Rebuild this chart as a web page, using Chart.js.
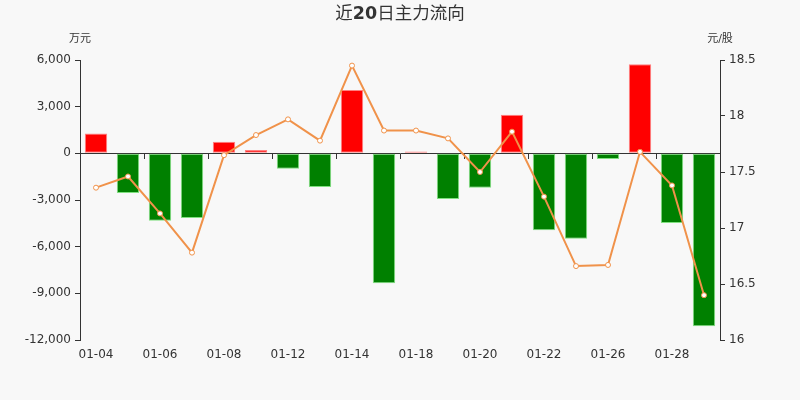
<!DOCTYPE html>
<html>
<head>
<meta charset="utf-8">
<script src="https://cdn.jsdelivr.net/npm/chart.js@4/dist/chart.umd.min.js"></script>
<style>
  html, body { margin:0; padding:0; background:#f8f8f8; }
  #wrap { width:800px; height:400px; position:relative; }
</style>
</head>
<body>
<div id="wrap"><canvas id="flowChart"></canvas></div>
<script>
/* ── data ─────────────────────────────────────────── */
const dates = ['01-04','01-05','01-06','01-07','01-08','01-11','01-12','01-13','01-14','01-15',
               '01-18','01-19','01-20','01-21','01-22','01-25','01-26','01-27','01-28','01-29'];
const netFlow = [1270, -2550, -4330, -4160, 750, 210, -985, -2165, 4070, -8355,
                 110, -2935, -2205, 2485, -4950, -5485, -365, 5720, -4480, -11120];
const closePrice = [17.36, 17.46, 17.13, 16.78, 17.65, 17.83, 17.97, 17.78, 18.45, 17.87,
                    17.87, 17.80, 17.50, 17.86, 17.28, 16.66, 16.67, 17.68, 17.38, 16.40];
const flowTicks  = [-12000, -9000, -6000, -3000, 0, 3000, 6000];
const priceTicks = [16, 16.5, 17, 17.5, 18, 18.5];

const TITLE_PARTS = [['近', 'normal'], ['20', 'bold'], ['日主力流向', 'normal']];
const LEFT_UNIT = '万元';
const RIGHT_UNIT = '元/股';
const FONT = '"DejaVu Sans", "Noto Sans CJK SC", sans-serif';
const AXIS_COLOR = '#333';
const TEXT_COLOR = '#333';

/* ── title + unit labels ─────────────────────────── */
const headerPlugin = {
  id: 'header',
  afterDraw(chart){
    const {ctx, chartArea} = chart;
    ctx.save();
    ctx.fillStyle = TEXT_COLOR;
    ctx.textBaseline = 'middle';
    // title, "20" in bold
    let total = 0;
    TITLE_PARTS.forEach(p => { ctx.font = p[1] + ' 17.5px ' + FONT; total += ctx.measureText(p[0]).width; });
    let x = chart.width / 2 - total / 2;
    ctx.textAlign = 'left';
    TITLE_PARTS.forEach(p => {
      ctx.font = p[1] + ' 17.5px ' + FONT;
      ctx.fillText(p[0], x, 14);
      x += ctx.measureText(p[0]).width;
    });
    ctx.font = '11px ' + FONT;
    ctx.textAlign = 'center';
    ctx.fillText(LEFT_UNIT, chartArea.left, 39);
    ctx.fillText(RIGHT_UNIT, chartArea.right, 39);
    ctx.restore();
  }
};

/* ── chart ───────────────────────────────────────── */
const ctx = document.getElementById('flowChart').getContext('2d');
new Chart(ctx, {
  data: {
    labels: dates,
    datasets: [
      {
        type: 'line',
        label: '股价',
        data: closePrice,
        yAxisID: 'y1',
        borderColor: '#f0924a',
        borderWidth: 2,
        pointRadius: 2.5,
        pointBorderWidth: 1,
        pointBackgroundColor: '#fff',
        pointBorderColor: '#f0924a',
        tension: 0,
        order: 0,
      },
      {
        type: 'bar',
        label: '主力净流入',
        data: netFlow,
        yAxisID: 'y',
        backgroundColor: netFlow.map(v => v >= 0 ? '#ff0000' : '#008000'),
        borderColor: netFlow.map(v => v >= 0 ? '#ff8080' : '#80e080'),
        borderWidth: 1,
        borderSkipped: false,
        categoryPercentage: 0.7,
        barPercentage: 1,
        order: 1,
      }
    ]
  },
  options: {
    responsive: true, maintainAspectRatio: false,
    animation: false,
    layout: { padding: { top: 60, bottom: 0, left: 0, right: 0 } },
    plugins: {
      legend: { display: false },
      title: { display: false },
      tooltip: { enabled: false }
    },
    scales: {
      x: {
        position: 'bottom',
        offset: true,
        grid: { display: false, drawTicks: false },
        border: { display: false },
        ticks: {
          autoSkip: false, maxRotation: 0, padding: 8,
          color: TEXT_COLOR, font: { size: 12, family: FONT },
          callback: (v, i) => i % 2 === 0 ? dates[i] : ''
        },
        afterFit: s => { s.height = 60; }
      },
      x2: {
        position: { y: 0 },
        labels: dates,
        offset: true,
        grid: {
          offset: true, drawOnChartArea: false, tickLength: 5,
          color: c => (c.index % 2 === 0 && c.index > 0) ? AXIS_COLOR : 'rgba(0,0,0,0)'
        },
        border: { display: true, color: AXIS_COLOR, width: 1 },
        ticks: { display: false }
      },
      y: {
        position: 'left',
        min: -12000, max: 6000,
        afterBuildTicks: s => { s.ticks = flowTicks.map(v => ({ value: v })); },
        grid: { drawOnChartArea: false, tickLength: 5, color: AXIS_COLOR },
        border: { display: true, color: AXIS_COLOR },
        ticks: {
          color: TEXT_COLOR, font: { size: 12, family: FONT }, padding: 4,
          callback: v => v.toLocaleString('en-US')
        },
        afterFit: s => { s.width = 80; }
      },
      y1: {
        position: 'right',
        min: 16, max: 18.5,
        afterBuildTicks: s => { s.ticks = priceTicks.map(v => ({ value: v })); },
        grid: { drawOnChartArea: false, tickLength: 5, color: AXIS_COLOR },
        border: { display: true, color: AXIS_COLOR },
        ticks: {
          color: TEXT_COLOR, font: { size: 12, family: FONT }, padding: 4,
          callback: v => String(v)
        },
        afterFit: s => { s.width = 80; }
      }
    }
  },
  plugins: [headerPlugin]
});
</script>
</body>
</html>
